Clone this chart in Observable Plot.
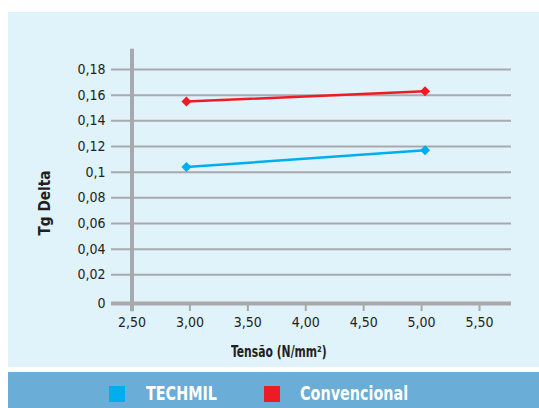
<!DOCTYPE html>
<html>
<head>
<meta charset="utf-8">
<script src="https://cdn.jsdelivr.net/npm/d3@7"></script>
<script src="https://cdn.jsdelivr.net/npm/@observablehq/plot@0.6"></script>
<style>
  html, body { margin: 0; padding: 0; background: #ffffff; }
  #wrap { position: relative; width: 539px; height: 408px; overflow: hidden;
    font-family: "Liberation Sans Narrow", "DejaVu Sans Condensed", "Arial Narrow", sans-serif; color: #231f20; }
  #panel { position: absolute; left: 8px; top: 12px; width: 531px; height: 355px; background: #e0f2fa; }
  #chart { position: absolute; left: 0; top: 0; }
  #xtitle { position: absolute; left: 231px; top: 342px; transform-origin: 0 50%; transform: scaleX(0.8);
    font-weight: bold; font-size: 15px; line-height: 20px; white-space: nowrap; }
  #ytitle { position: absolute; left: 44px; top: 203px; transform: translate(-50%, -50%) rotate(-90deg) scaleX(0.95);
    font-weight: bold; font-size: 16px; white-space: nowrap; }
  #legend { position: absolute; left: 8px; top: 372px; width: 531px; height: 36px; background: #6aadd6; }
  .sw { position: absolute; top: 14px; width: 16px; height: 16px; }
  .lt { position: absolute; top: 10px; color: #ffffff; font-weight: bold; font-size: 19px; line-height: 22px;
    white-space: nowrap; transform-origin: 0 50%; transform: scaleX(0.84); }
</style>
</head>
<body>
<div id="wrap">
  <div id="panel"></div>
  <div id="chart"></div>
  <div id="xtitle">Tensão (N/mm²)</div>
  <div id="ytitle">Tg Delta</div>
  <div id="legend"></div>
</div>
<script>
// ---- data ----
const seriesNames = ["TECHMIL", "Convencional"];
const seriesColors = ["#00aeef", "#ed1c24"];
const tension = [2.97, 5.03];
const techmil = [0.104, 0.117];
const convencional = [0.155, 0.163];
const xTicks = [2.5, 3.0, 3.5, 4.0, 4.5, 5.0, 5.5];
const yTicks = [0, 0.02, 0.04, 0.06, 0.08, 0.1, 0.12, 0.14, 0.16, 0.18];

const rows = [];
[techmil, convencional].forEach((vals, i) => {
  vals.forEach((v, j) => rows.push({series: seriesNames[i], x: tension[j], y: v}));
});

const grid = "#a7a9ac";
const fmtY = d => String(+d.toFixed(2)).replace(".", ",");
const fmtX = d => d.toFixed(2).replace(".", ",");
const font = '"Liberation Sans Narrow", "DejaVu Sans Condensed", "Arial Narrow", sans-serif';

const chart = Plot.plot({
  width: 539,
  height: 367,
  marginLeft: 111,
  marginRight: 28,
  marginTop: 69,
  marginBottom: 67,
  x: {domain: [2.323, 5.776]},
  y: {domain: [0, 0.18]},
  color: {domain: seriesNames, range: seriesColors},
  style: {background: "transparent", fontFamily: font, color: "#231f20", overflow: "visible"},
  marks: [
    Plot.ruleY(yTicks.filter(d => d > 0), {stroke: grid, strokeWidth: 2}),
    Plot.ruleY([0], {stroke: grid, strokeWidth: 4, dy: 3}),
    Plot.axisX({ticks: xTicks, tickSize: 8, dy: 3, stroke: grid, strokeWidth: 2, tickPadding: 6,
      fontSize: 14, tickFormat: fmtX, label: null, fill: "#231f20"}),
    Plot.ruleX([2.5], {y1: -0.0087, y2: 0.1958, stroke: grid, strokeWidth: 4}),
    Plot.axisY({ticks: yTicks.filter(d => d > 0), tickSize: 0, tickPadding: 6, fontSize: 14,
      tickFormat: fmtY, label: null, fill: "#231f20"}),
    Plot.axisY({ticks: [0], tickSize: 0, tickPadding: 6, fontSize: 14, dy: 3,
      tickFormat: fmtY, label: null, fill: "#231f20"}),
    Plot.line(rows, {x: "x", y: "y", z: "series", stroke: "series", strokeWidth: 2.5}),
    Plot.dot(rows, {x: "x", y: "y", fill: "series", symbol: "diamond2", r: 4.5})
  ]
});
document.getElementById("chart").appendChild(chart);

// legend
const legend = document.getElementById("legend");
const lx = [{sw: 101, tx: 138}, {sw: 256, tx: 292}];
seriesNames.forEach((name, i) => {
  const s = document.createElement("div");
  s.className = "sw";
  s.style.left = lx[i].sw + "px";
  s.style.background = seriesColors[i];
  legend.appendChild(s);
  const t = document.createElement("div");
  t.className = "lt";
  t.style.left = lx[i].tx + "px";
  t.textContent = name;
  legend.appendChild(t);
});
</script>
</body>
</html>
